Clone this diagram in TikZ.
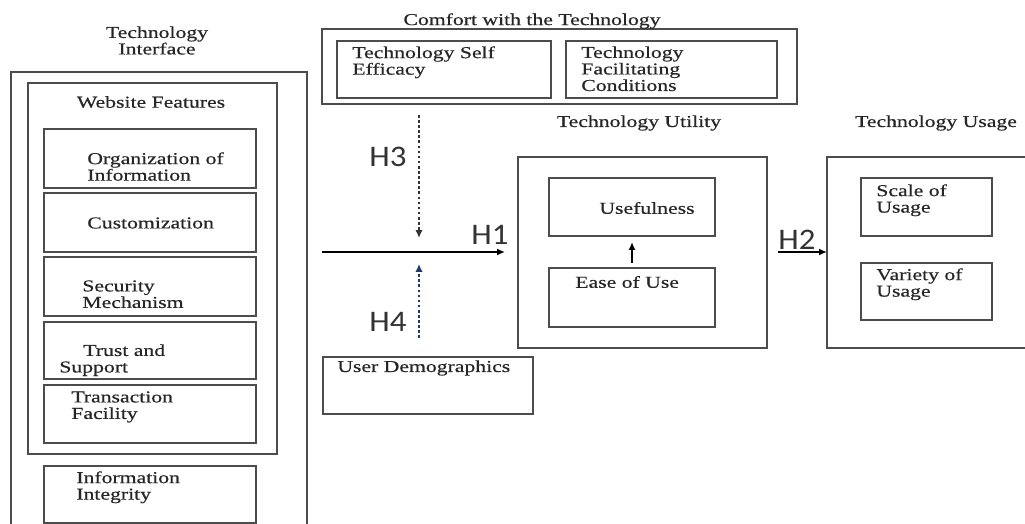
\documentclass[tikz,border=0pt]{standalone}
\usepackage{fontspec}
\setmainfont{Liberation Serif}[FakeStretch=1.3,FakeBold=0.5]
\newfontfamily\hypfont{Carlito}[FakeStretch=1.1]
\usetikzlibrary{fit,arrows.meta}
\definecolor{navy}{RGB}{31,56,110}
\tikzset{
  box/.style={draw=black!70,line width=1.1pt,inner sep=0pt,outer sep=0pt,fit={#1}},
  txt/.style={inner sep=0pt,align=left,text=black!85,font=\fontsize{9.5}{9.4}\selectfont},
  hyp/.style={inner sep=0pt,text=black!80,font=\hypfont\fontsize{17}{17}\selectfont},
  link/.style={line width=0.9pt,-{Latex[length=1.6mm,width=1.4mm]}},
  dots/.style={line width=1.5pt,dash pattern=on 1.5pt off 1.4pt,-{Latex[length=1.6mm,width=1.5mm]}}
}
\begin{document}
\begin{tikzpicture}[x=0.02cm,y=-0.02cm]
  \useasboundingbox (0,0) rectangle (1025,524);
  \node[box={(11,72)(307,530)}](iface){};
  \node[box={(28,83)(277,454)}](web){};
  \node[box={(44,129)(256,188)}](org){};
  \node[box={(44,193)(256,252)}](cust){};
  \node[box={(44,257)(256,316)}](sec){};
  \node[box={(44,322)(256,379)}](trust){};
  \node[box={(44,385)(256,443)}](trans){};
  \node[box={(44,466)(256,523)}](integ){};
  \node[box={(322,29)(797,104)}](comfort){};
  \node[box={(337,41)(551,98)}](self){};
  \node[box={(566,41)(777,98)}](facil){};
  \node[box={(518,157)(767,348)}](util){};
  \node[box={(549,178)(715,236)}](useful){};
  \node[box={(549,268)(715,327)}](ease){};
  \node[box={(827,157)(1035,348)}](usage){};
  \node[box={(861,178)(992,236)}](scale){};
  \node[box={(861,263)(992,320)}](variety){};
  \node[box={(323,357)(533,414)}](demo){};
  \node[txt,align=center,anchor=north](ifaceT) at (157,26){Technology\\Interface};
  \node[txt](webT) at (151,102){Website Features};
  \node[txt](comfortT) at (532,21){Comfort with the Technology};
  \node[txt](utilT) at (639,123){Technology Utility};
  \node[txt](usageT) at (936,123){Technology Usage};
  \node[txt,anchor=north west](orgT) at (87,152){Organization of\\Information};
  \node[txt,anchor=west](custT) at (87,223){Customization};
  \node[txt,anchor=north west](secT) at (82,280){Security\\Mechanism};
  \node[txt,anchor=north west](trustT) at (59,344){\hspace*{0.48cm}Trust and\\Support};
  \node[txt,anchor=north west](transT) at (71,391){Transaction\\Facility};
  \node[txt,anchor=north west](integT) at (76,471){Information\\Integrity};
  \node[txt,anchor=north west](selfT) at (352,46){Technology Self\\Efficacy};
  \node[txt,anchor=north west](facilT) at (581,46){Technology\\Facilitating\\Conditions};
  \node[txt](usefulT) at (647,208){Usefulness};
  \node[txt,anchor=west](easeT) at (575,282){Ease of Use};
  \node[txt,anchor=west](demoT) at (337,368){User Demographics};
  \node[txt,anchor=north west](scaleT) at (876,184){Scale of\\Usage};
  \node[txt,anchor=north west](varietyT) at (876,268){Variety of\\Usage};
  \node[hyp](h3) at (388,157){H3};
  \node[hyp](h4) at (388,322){H4};
  \node[hyp](h1) at (490,235){H1};
  \node[hyp](h2) at (797,240){H2};
  \coordinate(start) at (322,252);
  \coordinate(meet) at (419,252);
  \draw[link,shorten >=0.26cm](start)--(start -| util.west);
  \draw[link,shorten <=0.22cm](util.east |- start)--(usage.west |- start);
  \draw[link,shorten <=0.1cm,shorten >=0.12cm](ease)--(useful);
  \draw[dots,black!80,shorten <=0.22cm,shorten >=0.28cm](comfort.south -| meet)--(meet);
  \draw[dots,navy,shorten <=0.38cm,shorten >=0.24cm](demo.north -| meet)--(meet);
\end{tikzpicture}
\end{document}
